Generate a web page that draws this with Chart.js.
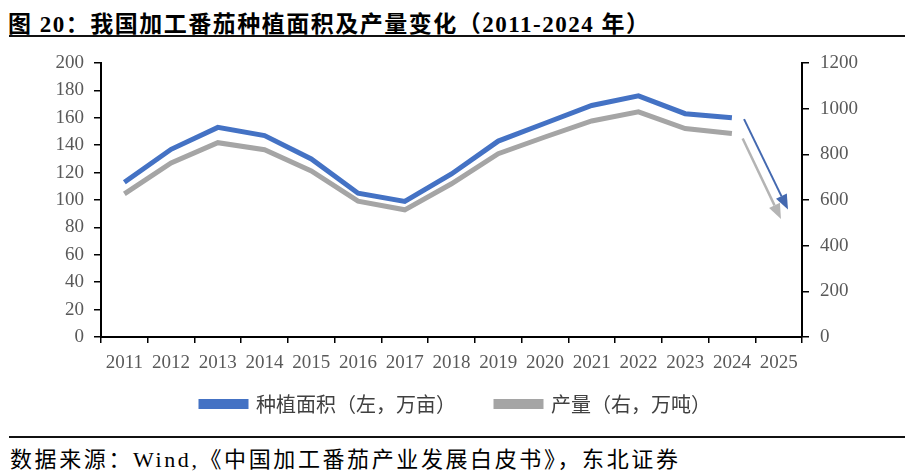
<!DOCTYPE html>
<html>
<head>
<meta charset="utf-8">
<script src="https://cdn.jsdelivr.net/npm/chart.js@4.4.1/dist/chart.umd.min.js"></script>
<style>
  html, body { margin: 0; padding: 0; background: #fff; }
  #wrap { position: relative; width: 912px; height: 471px; overflow: hidden; }
  #title {
    position: absolute; left: 8px; top: 5px; letter-spacing: 1.5px;
    font-family: "Liberation Serif", "Noto Sans CJK SC", serif;
    font-weight: bold; font-size: 23px; color: #000; white-space: nowrap;
  }
  .rule { position: absolute; left: 9px; width: 896px; height: 2px; background: #111; }
  #source {
    position: absolute; left: 10px; top: 441px; letter-spacing: 2.6px;
    font-family: "Liberation Serif", "Noto Sans CJK SC", serif;
    font-size: 22px; color: #000; white-space: nowrap;
  }
  #chart { position: absolute; left: 0; top: 0; }
</style>
</head>
<body>
<div id="wrap">
  <div id="title">图 20：我国加工番茄种植面积及产量变化（2011-2024 年）</div>
  <div class="rule" style="top:35px"></div>
  <canvas id="chart" width="912" height="424"></canvas>
  <div class="rule" style="top:436px"></div>
  <div id="source">数据来源：Wind,《中国加工番茄产业发展白皮书》，东北证券</div>
</div>
<script>
// categories and series
const years = ['2011', '2012', '2013', '2014', '2015', '2016', '2017', '2018', '2019', '2020', '2021', '2022', '2023', '2024', '2025'];
const plantingArea = [113, 137, 153, 147, 130, 105, 99, 119, 143, 156, 169, 176, 163, 160, null]; // 万亩, left
const output = [627, 762, 851, 820, 727, 595, 557, 671, 803, 876, 946, 986, 913, 891, null];      // 万吨, right
const leftTicks = { min: 0, max: 200, step: 20 };
const rightTicks = { min: 0, max: 1200, step: 200 };

// trend arrows: [fromIndex, fromValue, toIndex, toValue, axis]
const blueArrow = [13.26, 159, 14.2, 93, 'yL'];
const grayArrow = [13.23, 869, 14.05, 517, 'yR'];

const BLUE = '#4472C4';
const GRAY = '#A5A5A5';
const tickFont = { family: '"Liberation Serif", serif', size: 19 };

const arrowPlugin = {
  id: 'arrows',
  afterDatasetsDraw(chart) {
    const c = chart.ctx;
    const x = chart.scales.x;
    function arrow(a, color, w) {
      const y = chart.scales[a[4]];
      const x0 = x.getPixelForValue(a[0]), y0 = y.getPixelForValue(a[1]);
      const x1 = x.getPixelForValue(a[2]), y1 = y.getPixelForValue(a[3]);
      const ang = Math.atan2(y1 - y0, x1 - x0);
      const len = 15, half = 6;
      const bx = x1 - len * Math.cos(ang), by = y1 - len * Math.sin(ang);
      c.save();
      c.strokeStyle = color; c.fillStyle = color; c.lineWidth = w;
      c.beginPath(); c.moveTo(x0, y0); c.lineTo(bx, by); c.stroke();
      c.beginPath();
      c.moveTo(x1, y1);
      c.lineTo(bx + half * Math.sin(ang), by - half * Math.cos(ang));
      c.lineTo(bx - half * Math.sin(ang), by + half * Math.cos(ang));
      c.closePath(); c.fill();
      c.restore();
    }
    arrow(grayArrow, '#B4B4B4', 2.5);
    arrow(blueArrow, '#4469B0', 2);
  }
};

new Chart(document.getElementById('chart').getContext('2d'), {
  type: 'line',
  data: {
    labels: years,
    datasets: [{
      label: '种植面积（左，万亩）',
      data: plantingArea,
      yAxisID: 'yL',
      borderColor: BLUE,
      backgroundColor: BLUE,
      borderWidth: 5,
      pointRadius: 0,
      tension: 0
    }, {
      label: '产量（右，万吨）',
      data: output,
      yAxisID: 'yR',
      borderColor: GRAY,
      backgroundColor: GRAY,
      borderWidth: 5,
      pointRadius: 0,
      tension: 0
    }]
  },
  options: {
    responsive: false,
    animation: false,
    layout: { padding: { top: 63, left: 0, right: 0, bottom: 0 } },
    plugins: {
      tooltip: { enabled: false },
      legend: {
        position: 'bottom',
        labels: {
          boxWidth: 45, boxHeight: 5, padding: 10,
          color: '#404040',
          font: { family: '"Noto Sans CJK SC", sans-serif', size: 20 },
          generateLabels(chart) {
            const items = Chart.defaults.plugins.legend.labels.generateLabels(chart);
            // wider gap between the two entries
            items[0].text += '\u3000\u3000';
            return items;
          }
        }
      }
    },
    scales: {
      x: {
        offset: true,
        grid: { offset: true, drawOnChartArea: false, drawTicks: true, tickLength: 6, color: '#000', lineWidth: 1.5 },
        border: { display: true, color: '#000', width: 2 },
        ticks: { color: '#595959', font: tickFont, padding: 9, maxRotation: 0, autoSkip: false },
        afterFit(s) { s.height = 47; }
      },
      yL: {
        position: 'left',
        min: leftTicks.min, max: leftTicks.max,
        grid: { drawOnChartArea: false, drawTicks: true, tickLength: 7, color: '#000', lineWidth: 1.5 },
        border: { display: true, color: '#000', width: 2 },
        ticks: { stepSize: leftTicks.step, autoSkip: false, color: '#595959', font: tickFont, padding: 10,
                 callback: v => String(v) },
        afterFit(s) { s.width = 101; }
      },
      yR: {
        position: 'right',
        min: rightTicks.min, max: rightTicks.max,
        grid: { drawOnChartArea: false, drawTicks: true, tickLength: 7, color: '#000', lineWidth: 1.5 },
        border: { display: true, color: '#000', width: 2 },
        ticks: { stepSize: rightTicks.step, autoSkip: false, color: '#595959', font: tickFont, padding: 11,
                 callback: v => String(v) },
        afterFit(s) { s.width = 110; }
      }
    }
  },
  plugins: [arrowPlugin]
});
</script>
</body>
</html>
